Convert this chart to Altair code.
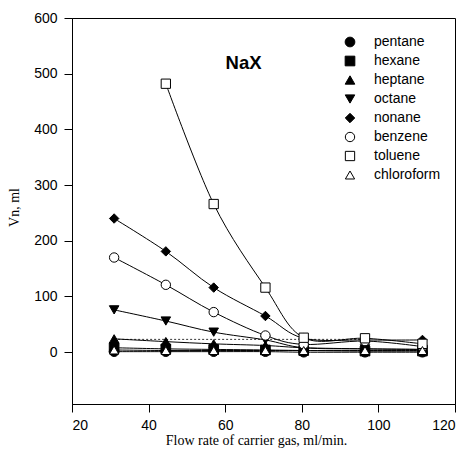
import altair as alt
import pandas as pd

flow = [31, 44.5, 57, 70.5, 80.5, 96.5, 111.5]
series = ["pentane", "hexane", "heptane", "octane", "nonane", "benzene", "toluene", "chloroform"]
pentane = [1, 1, 1, 1, 0, 0, 0]
hexane = [8, 6, 5, 4, 3, 2, 2]
heptane = [24, 19, 15, 12, 8, 6, 5]
octane = [76, 56, 36, 22, 8, 6, 5]
nonane = [240, 181, 116, 65, 25, 22, 22]
benzene = [170, 121, 72, 30, 14, 20, 10]
toluene = [None, 482, 266, 116, 26, 25, 15]
chloroform = [4, 3, 3, 3, 3, 3, 3]

shapes = ["circle", "square", "triangle-up", "triangle-down", "diamond", "circle", "square", "triangle-up"]
fills = ["black"] * 5 + ["white"] * 3
strokes = ["black"] * 8
sizes = [95, 85, 100, 100, 150, 110, 110, 30]

dotted_x = [31, 97]
dotted_y = [23, 23]

label_text = ["NaX"]
label_x = [64.8]
label_y = [519]

values = dict(zip(series, [pentane, hexane, heptane, octane, nonane, benzene, toluene, chloroform]))
rows = []
for s in series:
    for xi, yi in zip(flow, values[s]):
        if yi is not None:
            rows.append({"series": s, "flow": xi, "vn": yi})
df = pd.DataFrame(rows)

xscale = alt.Scale(domain=[20, 120], nice=False, zero=False)
yscale = alt.Scale(domain=[-93, 600], nice=False, zero=False)

xaxis = alt.Axis(values=[20, 40, 60, 80, 100, 120], title="Flow rate of carrier gas, ml/min.",
                 grid=False, tickSize=8, labelPadding=6, titlePadding=1,
                 labelFont="Liberation Sans", labelFontSize=14, labelColor="black",
                 titleFont="Liberation Serif", titleFontSize=14, titleFontWeight="normal",
                 titleColor="black", domainColor="black", tickColor="black", titleX=184)
yaxis = alt.Axis(values=[0, 100, 200, 300, 400, 500, 600], title="Vn, ml",
                 grid=False, tickSize=8, labelPadding=7, titlePadding=12,
                 labelFont="Liberation Sans", labelFontSize=14, labelColor="black",
                 titleFont="Liberation Serif", titleFontSize=14, titleFontWeight="normal",
                 titleColor="black", domainColor="black", tickColor="black", titleY=189)

legend = alt.Legend(title=None, orient="none", legendX=271, legendY=17,
                    labelFont="Liberation Sans", labelFontSize=14, labelColor="black",
                    symbolStrokeWidth=1, rowPadding=5,
                    labelOffset=17, padding=0, symbolOpacity=1)

base = alt.Chart(df)

lines = base.mark_line(interpolate="cardinal", color="black", strokeWidth=1).encode(
    x=alt.X("flow:Q", scale=xscale, axis=xaxis),
    y=alt.Y("vn:Q", scale=yscale, axis=yaxis),
    detail="series:N",
)

points = base.mark_point(strokeWidth=1, opacity=1, fillOpacity=1).encode(
    x=alt.X("flow:Q", scale=xscale),
    y=alt.Y("vn:Q", scale=yscale),
    shape=alt.Shape("series:N", scale=alt.Scale(domain=series, range=shapes), legend=legend, sort=series),
    fill=alt.Fill("series:N", scale=alt.Scale(domain=series, range=fills), legend=legend, sort=series),
    stroke=alt.Stroke("series:N", scale=alt.Scale(domain=series, range=strokes), legend=legend, sort=series),
    size=alt.Size("series:N", scale=alt.Scale(domain=series, range=sizes), legend=legend, sort=series),
)

dotted = alt.Chart(pd.DataFrame({"flow": dotted_x, "vn": dotted_y})).mark_line(
    color="black", strokeWidth=0.8, strokeDash=[2, 2]).encode(
    x=alt.X("flow:Q", scale=xscale), y=alt.Y("vn:Q", scale=yscale))

label = alt.Chart(pd.DataFrame({"t": label_text, "flow": label_x, "vn": label_y})).mark_text(
    font="Liberation Sans", fontSize=18.5, fontWeight="bold", color="black").encode(
    x=alt.X("flow:Q", scale=xscale), y=alt.Y("vn:Q", scale=yscale), text="t:N")

chart = alt.layer(dotted, lines, points, label).properties(
    width=383, height=386,
    autosize=alt.AutoSizeParams(type="none"),
    padding={"left": 64, "top": 10, "right": 6, "bottom": 46},
    background="white",
).configure_view(stroke="black", strokeWidth=1)

chart.save("out.html", embed_options={"renderer": "svg", "actions": False})
